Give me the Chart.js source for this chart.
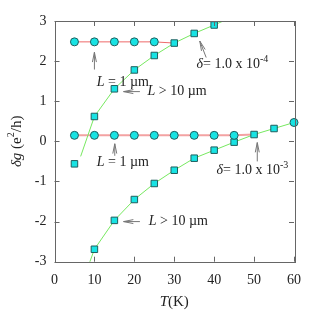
<!DOCTYPE html>
<html><head><meta charset="utf-8">
<script src="https://cdn.jsdelivr.net/npm/chart.js@4"></script>
<style>html,body{margin:0;padding:0;background:#fff}</style>
</head><body>
<canvas id="c" width="327" height="320"></canvas>
<script>
// ---- data (T in K, delta g in e^2/h) ----
const topCircleT = [5, 10, 15, 20, 25];
const topCircleG = [2.48, 2.48, 2.48, 2.48, 2.48];
const topRedT = [5, 10, 15, 20, 25, 30];
const topRedG = [2.48, 2.48, 2.48, 2.48, 2.48, 2.45];
const topSquareT = [5, 10, 15, 20, 25, 30, 35, 40];
const topSquareG = [-0.56, 0.62, 1.31, 1.78, 2.14, 2.45, 2.69, 2.90];
const topFitT = [6.55, 10, 15, 20, 25, 30, 35, 40, 45];
const topFitG = [-0.375, 0.62, 1.31, 1.78, 2.14, 2.45, 2.69, 2.90, 3.12];

const botCircleT = [5, 10, 15, 20, 25, 30, 35, 40, 45, 60];
const botCircleG = [0.15, 0.15, 0.15, 0.15, 0.15, 0.15, 0.15, 0.15, 0.15, 0.47];
const botRedT = [5, 10, 15, 20, 25, 30, 35, 40, 45, 50];
const botRedG = [0.15, 0.15, 0.15, 0.15, 0.15, 0.15, 0.15, 0.15, 0.15, 0.17];
const botSquareT = [10, 15, 20, 25, 30, 35, 40, 45, 50, 55];
const botSquareG = [-2.69, -1.97, -1.45, -1.05, -0.72, -0.42, -0.22, -0.02, 0.17, 0.32];
const botFitT = [8.5, 10, 15, 20, 25, 30, 35, 40, 45, 50, 55, 60];
const botFitG = [-3.1, -2.69, -1.97, -1.45, -1.05, -0.72, -0.42, -0.22, -0.02, 0.17, 0.32, 0.47];

const xTicks = [0, 10, 20, 30, 40, 50, 60];
const yTicks = [-3, -2, -1, 0, 1, 2, 3];

// annotation texts (anchored in data units)
const notes = [
  {parts:[["L","i"],[" = 1 µm",""]], T:10.6, g:1.47, arrow:[10,1.79,10,2.22]},
  {parts:[["L","i"],[" > 10 µm",""]], T:23.3, g:1.24, arrow:[21.4,1.24,17.3,1.24]},
  {parts:[["δ","i"],["= 1.0 x 10",""],["-4","s"]], T:35.6, g:1.92, arrow:[38.0,2.09,36.4,2.50]},
  {parts:[["L","i"],[" = 1 µm",""]], T:10.6, g:-0.53, arrow:[15.1,-0.36,15.1,-0.06]},
  {parts:[["δ","i"],["= 1.0 x 10",""],["-3","s"]], T:40.6, g:-0.73, arrow:[50.8,-0.50,50.8,-0.03]},
  {parts:[["L","i"],[" > 10 µm",""]], T:23.6, g:-2.0, arrow:[21.4,-2.0,17.3,-2.0]}
];

const pts = (xs, ys) => xs.map((x, i) => ({x, y: ys[i]}));
const FF = '"Liberation Serif", "DejaVu Serif", serif';
const CYAN = '#18e3e3', EDGE = '#1f5f5f';

function lineDs(xs, ys, color, w, order) {
  return {data: pts(xs, ys), showLine: true, borderColor: color, borderWidth: w,
    pointRadius: 0, pointHoverRadius: 0, fill: false, tension: 0, clip: 0, order};
}
function markDs(xs, ys, style, r) {
  return {data: pts(xs, ys), showLine: false, pointStyle: style, pointRadius: r,
    pointBackgroundColor: CYAN, pointBorderColor: EDGE, pointBorderWidth: 1, order: 0, clip: false};
}

function drawParts(ctx, parts, x, y, size) {
  let cx = x;
  for (const [t, s] of parts) {
    if (s === 's') {
      ctx.font = `${Math.round(size*0.68)}px ${FF}`;
      ctx.fillText(t, cx, y - size*0.38);
    } else {
      ctx.font = `${s === 'i' ? 'italic ' : ''}${size}px ${FF}`;
      ctx.fillText(t, cx, y);
    }
    cx += ctx.measureText(t).width;
  }
  return cx - x;
}

function arrow(ctx, x1, y1, x2, y2) {
  const a = Math.atan2(y2 - y1, x2 - x1), L = 10, h = 0.2;
  ctx.beginPath();
  ctx.moveTo(x1, y1); ctx.lineTo(x2, y2);
  ctx.moveTo(x2 - L*Math.cos(a - h), y2 - L*Math.sin(a - h)); ctx.lineTo(x2, y2);
  ctx.lineTo(x2 - L*Math.cos(a + h), y2 - L*Math.sin(a + h));
  ctx.stroke();
}

const deco = {
  id: 'deco',
  afterDraw(chart) {
    const ctx = chart.ctx, a = chart.chartArea, xs = chart.scales.x, ys = chart.scales.y;
    ctx.save();
    ctx.strokeStyle = '#666'; ctx.lineWidth = 1;
    ctx.strokeRect(Math.round(a.left) + 0.5, Math.round(a.top) + 0.5,
      Math.round(a.right - a.left), Math.round(a.bottom - a.top));
    ctx.beginPath();
    const tl = 5;
    for (const v of xTicks) {
      const px = Math.round(xs.getPixelForValue(v)) + 0.5;
      ctx.moveTo(px, a.bottom); ctx.lineTo(px, a.bottom - tl);
      ctx.moveTo(px, a.top); ctx.lineTo(px, a.top + tl);
    }
    for (const v of yTicks) {
      const py = Math.round(ys.getPixelForValue(v)) + 0.5;
      ctx.moveTo(a.left, py); ctx.lineTo(a.left + tl, py);
      ctx.moveTo(a.right, py); ctx.lineTo(a.right - tl, py);
    }
    ctx.stroke();

    // annotations
    ctx.fillStyle = '#222'; ctx.textBaseline = 'middle'; ctx.textAlign = 'left';
    ctx.strokeStyle = '#777';
    for (const n of notes) {
      drawParts(ctx, n.parts, xs.getPixelForValue(n.T), ys.getPixelForValue(n.g), 14);
      const [t1, g1, t2, g2] = n.arrow;
      arrow(ctx, xs.getPixelForValue(t1), ys.getPixelForValue(g1), xs.getPixelForValue(t2), ys.getPixelForValue(g2));
    }

    // axis titles
    const xt = [["T","i"],["(K)",""]];
    let w = 0;
    for (const [t, s] of xt) { ctx.font = `${s==='i'?'italic ':''}15px ${FF}`; w += ctx.measureText(t).width; }
    drawParts(ctx, xt, (a.left + a.right)/2 - w/2, 302, 15);

    const yt = [["δg","i"],[" (e",""],["2","s"],["/h)",""]];
    ctx.save();
    ctx.translate(17, (a.top + a.bottom)/2);
    ctx.rotate(-Math.PI/2);
    let wy = 0;
    for (const [t, s] of yt) {
      ctx.font = s==='s' ? `${Math.round(15*0.68)}px ${FF}` : `${s==='i'?'italic ':''}15px ${FF}`;
      wy += ctx.measureText(t).width;
    }
    drawParts(ctx, yt, -wy/2, 0, 15);
    ctx.restore();
    ctx.restore();
  }
};

new Chart(document.getElementById('c'), {
  type: 'scatter',
  data: { datasets: [
    lineDs(topRedT, topRedG, '#ee6a6a', 1, 3),
    lineDs(botRedT, botRedG, '#f4a2a2', 2, 3),
    lineDs(topFitT, topFitG, '#77e860', 1, 2),
    lineDs(botFitT, botFitG, '#77e860', 1, 2),
    markDs(topCircleT, topCircleG, 'circle', 4),
    markDs(botCircleT, botCircleG, 'circle', 4),
    markDs(topSquareT, topSquareG, 'rect', 4.6),
    markDs(botSquareT, botSquareG, 'rect', 4.6)
  ]},
  options: {
    responsive: false, animation: false, devicePixelRatio: 1,
    layout: {padding: {top: 21, right: 33, left: 0, bottom: 0}},
    plugins: {legend: {display: false}, tooltip: {enabled: false}},
    events: [],
    scales: {
      x: {type: 'linear', min: 0, max: 60,
        afterBuildTicks: s => { s.ticks = xTicks.map(v => ({value: v})); },
        afterFit: s => { s.height = 58.3; },
        grid: {display: false}, border: {display: false},
        ticks: {font: {family: FF, size: 14}, color: '#222', padding: 2, maxRotation: 0}},
      y: {type: 'linear', min: -3, max: 3,
        afterBuildTicks: s => { s.ticks = yTicks.map(v => ({value: v})); },
        afterFit: s => { s.width = 54.5; },
        grid: {display: false}, border: {display: false},
        ticks: {font: {family: FF, size: 14}, color: '#222', padding: 0,
          callback: v => String(v).replace('−','-')}}
    }
  },
  plugins: [deco]
});
</script>
</body></html>
